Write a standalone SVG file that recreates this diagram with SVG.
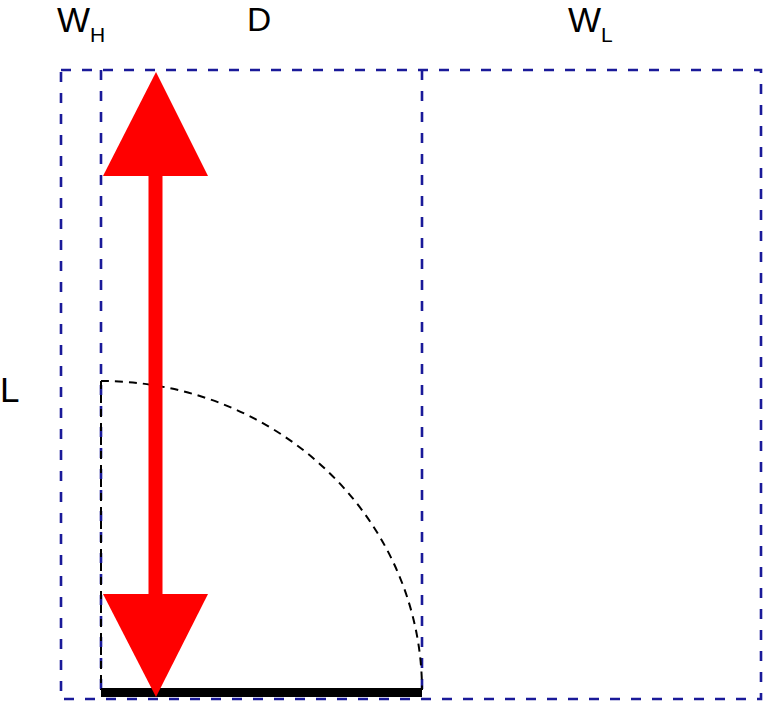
<svg xmlns="http://www.w3.org/2000/svg" width="763" height="702" viewBox="0 0 763 702">
<style>
.box{fill:none;stroke:#1a1a99;stroke-width:2.6;stroke-dasharray:10,11}
.guide{fill:none;stroke:#000;stroke-width:2;stroke-dasharray:8,6}
.lbl{font-family:"Liberation Sans",Arial,sans-serif;font-size:35px;fill:#000}
.sub{font-size:21px}
.red{fill:#ff0000}
</style>
<rect width="763" height="702" fill="#fff"/>
<g id="regions">
<rect id="outer" class="box" x="61" y="70" width="700" height="629"/>
<line id="wh-d" class="box" x1="101" y1="70" x2="101" y2="699"/>
<line id="d-wl" class="box" x1="422" y1="70" x2="422" y2="699"/>
</g>
<g id="guides">
<line class="guide" x1="101" y1="381" x2="101" y2="690"/>
<path class="guide" d="M101,381 A321,309 0 0 1 422,690"/>
</g>
<g id="base">
<rect x="101" y="688" width="321" height="9" fill="#000"/>
</g>
<g id="arrow">
<rect class="red" x="148.5" y="170" width="14" height="430"/>
<polygon class="red" points="156,72 208,176 103,176"/>
<polygon class="red" points="103,594 208,594 156,697"/>
</g>
<g id="labels">
<text class="lbl" x="57" y="32">W<tspan class="sub" dy="10">H</tspan></text>
<text class="lbl" x="247" y="30.5" style="font-size:33.5px">D</text>
<text class="lbl" x="568" y="32">W<tspan class="sub" dy="10">L</tspan></text>
<text class="lbl" x="0" y="402">L</text>
</g>
</svg>
